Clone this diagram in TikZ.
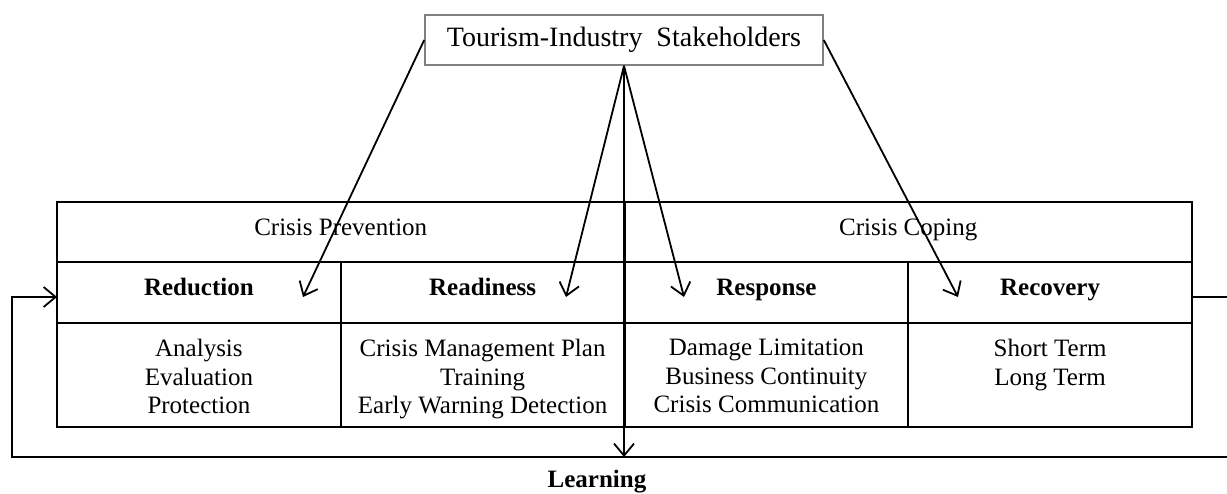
\documentclass[tikz,border=0pt]{standalone}
\usepackage{fontspec}
\setmainfont{Liberation Serif}
\usetikzlibrary{arrows.meta}
\begin{document}
\begin{tikzpicture}[x=0.5pt,y=-0.5pt,
  every node/.style={font=\fontsize{12.5}{14.25}\selectfont},
  box/.style={draw,line width=1pt,inner sep=0pt,outer sep=0pt},
  hcell/.style={box,minimum width=283.75pt,minimum height=30pt,text height=9pt,text depth=5.8pt},
  tcell/.style={box,minimum width=141.875pt,minimum height=30.5pt,text height=9pt,text depth=5.8pt,font=\fontsize{12.5}{14.25}\selectfont\bfseries},
  bcell/.style={box,minimum width=141.875pt,minimum height=52pt},
  items/.style={anchor=north,align=center,inner sep=0pt},
  arr/.style={line width=0.9pt,-{Straight Barb[length=6pt,width=10pt,line width=0.9pt]}},
  ln/.style={line width=0.9pt}]
\useasboundingbox (0,0) rectangle (1227,493);
% stakeholders
\node[draw=gray,line width=0.8pt,minimum width=199pt,minimum height=25pt,inner sep=0pt,text height=10pt,text depth=4pt,font=\fontsize{14}{16}\selectfont] (sh) at (624,40) {Tourism-Industry\ \ Stakeholders};
% header
\node[hcell] (prev) at (340.75,232) {Crisis Prevention};
\node[hcell] (cope) at (908.25,232) {Crisis Coping};
% titles
\node[tcell] (red) at (198.9,292.5) {Reduction};
\node[tcell] (rea) at (482.6,292.5) {Readiness};
\node[tcell] (res) at (766.4,292.5) {Response};
\node[tcell] (rec) at (1050.1,292.5) {Recovery};
% bodies
\node[bcell] (bred) at (198.9,375) {};
\node[bcell] (brea) at (482.6,375) {};
\node[bcell] (bres) at (766.4,375) {};
\node[bcell] (brec) at (1050.1,375) {};
\node[items] (ired) at ([yshift=-8pt]bred.north) {Analysis\\Evaluation\\Protection};
\node[items] (irea) at ([yshift=-8pt]brea.north) {Crisis Management Plan\\Training\\Early Warning Detection};
\node[items] (ires) at ([yshift=-8pt]bres.north) {Damage Limitation\\Business Continuity\\Crisis Communication};
\node[items] (irec) at ([yshift=-8pt]brec.north) {Short Term\\Long Term};
% arrow targets
\coordinate (tred) at (303,297);
\coordinate (trea) at (566,297);
\coordinate (tres) at (684,297);
\coordinate (trec) at (958,297);
\coordinate (tlearn) at (624,457);
\draw[arr] (sh.west) -- (tred);
\draw[arr] (sh.south) -- (trea);
\draw[arr] (sh.south) -- (tres);
\draw[arr] (sh.east) -- (trec);
\draw[arr] (sh.south) -- (tlearn);
% feedback loop
\coordinate (LL) at (12,457);
\coordinate (LR) at (1227,457);
\coordinate (RR) at (1227,297);
\draw[ln] ([yshift=-2.25pt]rec.east) -- (RR);
\draw[arr] (LR) -- (LL) |- ([yshift=-2.25pt]red.west);
\node[font=\fontsize{12.5}{14.25}\selectfont\bfseries] (learn) at (597,482) {Learning};
\end{tikzpicture}
\end{document}
